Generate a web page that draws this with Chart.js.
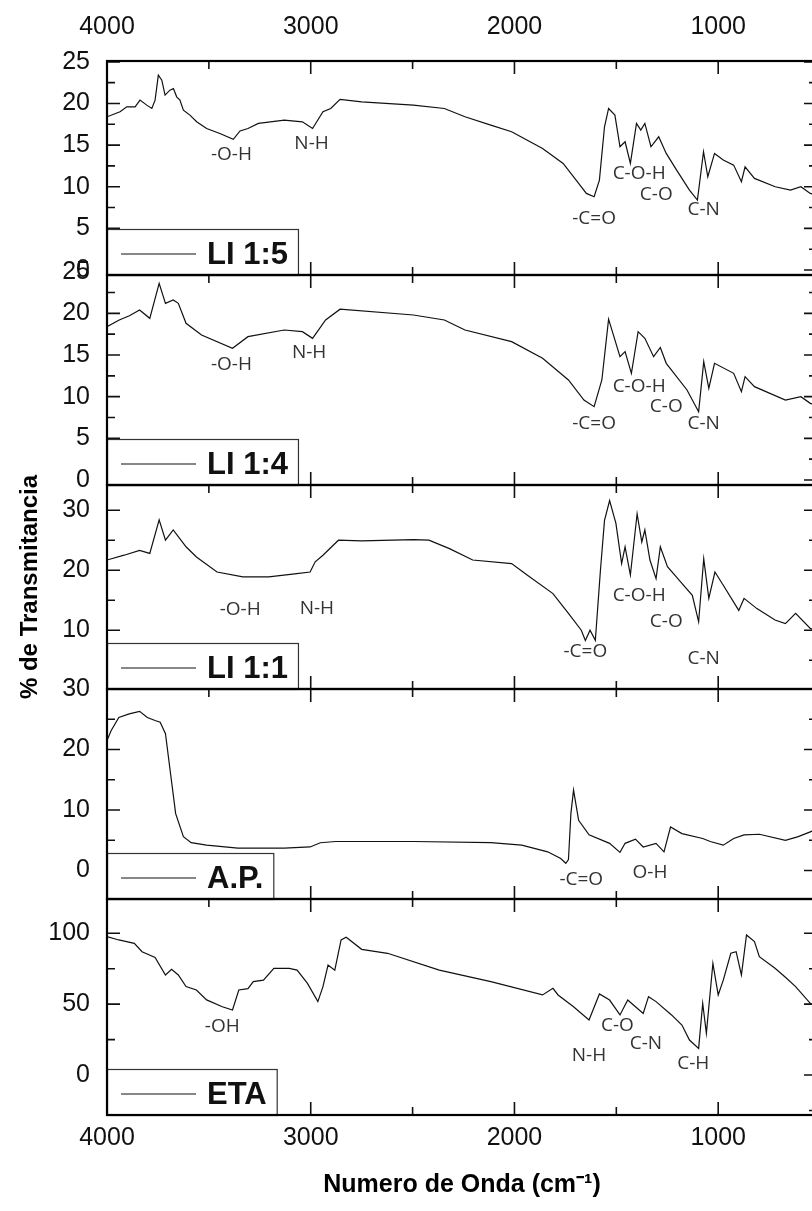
<!DOCTYPE html>
<html>
<head>
<meta charset="utf-8">
<title>Espectros FTIR</title>
<script src="https://cdn.jsdelivr.net/npm/chart.js@4.4.1/dist/chart.umd.min.js"></script>
<style>
  html, body { margin: 0; padding: 0; background: #fff; overflow: hidden; }
  #wrap { width: 812px; height: 1211px; overflow: hidden; position: relative; }
  #ftir { display: block; }
</style>
</head>
<body>
<div id="wrap"><canvas id="ftir" width="820" height="1211"></canvas></div>
<script>
/* =========================
   Espectros FTIR apilados
========================= */

var seriesNames = ['LI 1:5', 'LI 1:4', 'LI 1:1', 'A.P.', 'ETA'];

// LI 1:5
var li15Wn = [4000, 3936, 3903, 3862, 3838, 3805, 3780, 3764, 3748, 3731, 3715, 3691, 3674, 3658, 3642, 3625, 3593, 3560, 3511, 3446, 3380, 3347, 3308, 3257, 3130, 3041, 2991, 2940, 2902, 2856, 2750, 2496, 2344, 2243, 2116, 2014, 1862, 1761, 1685, 1647, 1609, 1583, 1558, 1538, 1507, 1482, 1457, 1431, 1401, 1380, 1360, 1330, 1292, 1255, 1204, 1141, 1102, 1072, 1051, 1018, 975, 924, 886, 868, 822, 720, 645, 594, 548, 520];
var li15T  = [18.4, 19.0, 19.6, 19.6, 20.4, 19.8, 19.4, 20.4, 23.4, 22.8, 21.0, 21.6, 21.8, 20.8, 20.4, 19.2, 18.6, 17.8, 17.0, 16.4, 15.7, 16.7, 17.0, 17.6, 18.0, 17.8, 17.0, 19.0, 19.4, 20.5, 20.2, 19.8, 19.4, 18.4, 17.4, 16.6, 14.6, 12.8, 10.4, 9.2, 8.8, 10.8, 17.2, 19.4, 18.6, 14.8, 15.4, 12.8, 17.6, 16.8, 17.6, 14.8, 16.0, 14.0, 12.0, 9.6, 8.4, 14.2, 11.2, 14.0, 13.2, 12.6, 10.6, 12.4, 11.0, 10.0, 9.6, 10.0, 9.2, 9.0];

// LI 1:4
var li14Wn = [4000, 3940, 3890, 3840, 3790, 3744, 3713, 3675, 3650, 3612, 3536, 3384, 3308, 3130, 3041, 2991, 2927, 2856, 2496, 2344, 2243, 2014, 1862, 1735, 1659, 1609, 1571, 1538, 1482, 1457, 1426, 1393, 1360, 1317, 1284, 1255, 1153, 1096, 1071, 1046, 1018, 924, 886, 868, 822, 670, 594, 548, 520];
var li14T  = [18.4, 19.2, 19.7, 20.4, 19.4, 23.6, 21.2, 21.6, 21.2, 18.8, 17.4, 15.8, 17.2, 18.0, 17.8, 17.0, 19.2, 20.5, 19.8, 19.2, 18.0, 16.6, 14.6, 12.0, 9.6, 8.8, 12.0, 19.3, 14.8, 15.4, 12.8, 17.8, 17.0, 14.8, 15.9, 14.0, 10.8, 8.2, 14.2, 11.0, 14.0, 12.8, 10.6, 12.4, 11.2, 9.6, 10.0, 9.2, 9.0];

// LI 1:1
var li11Wn = [4000, 3916, 3840, 3790, 3744, 3713, 3675, 3650, 3612, 3561, 3460, 3333, 3206, 3079, 3003, 2978, 2940, 2864, 2750, 2496, 2420, 2319, 2205, 2014, 1938, 1811, 1735, 1672, 1652, 1629, 1603, 1578, 1558, 1533, 1502, 1474, 1457, 1431, 1398, 1375, 1360, 1335, 1305, 1284, 1249, 1178, 1127, 1096, 1071, 1046, 1016, 975, 899, 873, 810, 721, 670, 620, 548, 520];
var li11T  = [21.7, 22.5, 23.3, 22.8, 28.4, 25.0, 26.7, 25.6, 23.9, 22.2, 19.7, 18.9, 18.9, 19.4, 19.7, 21.4, 22.5, 25.0, 24.9, 25.1, 25.0, 23.6, 21.7, 21.1, 19.2, 16.1, 12.8, 10.0, 8.3, 10.0, 8.3, 20.0, 28.3, 31.6, 27.8, 21.1, 23.9, 19.2, 29.4, 24.7, 26.7, 21.7, 18.6, 23.9, 20.6, 17.8, 15.8, 11.4, 21.9, 15.3, 19.7, 17.5, 13.3, 15.3, 13.6, 11.7, 11.1, 12.8, 10.3, 10.0];

// A.P.
var apWn = [4000, 3980, 3942, 3891, 3840, 3802, 3764, 3739, 3713, 3688, 3663, 3625, 3587, 3511, 3358, 3130, 3003, 2953, 2877, 2496, 2116, 1964, 1837, 1773, 1748, 1735, 1723, 1710, 1685, 1634, 1533, 1482, 1457, 1406, 1368, 1305, 1266, 1234, 1178, 1076, 1039, 975, 924, 873, 798, 670, 607, 548, 520];
var apT  = [21.5, 23.1, 25.3, 25.9, 26.3, 25.3, 24.8, 24.5, 22.6, 16.0, 9.4, 5.6, 4.6, 4.2, 3.7, 3.7, 3.9, 4.6, 4.8, 4.8, 4.6, 4.2, 3.1, 2.0, 1.2, 1.8, 9.4, 13.3, 8.3, 5.9, 4.5, 3.0, 4.5, 5.2, 3.9, 4.5, 3.1, 7.2, 6.1, 5.3, 4.8, 4.2, 5.3, 5.9, 6.0, 5.0, 5.6, 6.4, 6.8];

// ETA
var etaWn = [4000, 3942, 3866, 3828, 3764, 3713, 3683, 3650, 3612, 3561, 3511, 3434, 3384, 3353, 3308, 3282, 3232, 3181, 3105, 3067, 3016, 2965, 2940, 2915, 2882, 2851, 2826, 2750, 2623, 2369, 2116, 1862, 1811, 1786, 1710, 1634, 1583, 1533, 1482, 1444, 1406, 1368, 1342, 1305, 1229, 1178, 1141, 1096, 1076, 1058, 1026, 1000, 975, 938, 912, 886, 861, 822, 798, 721, 670, 620, 548, 520];
var etaT  = [97.6, 95.3, 92.9, 87.0, 83.0, 70.6, 74.6, 70.6, 62.4, 60.0, 53.0, 48.2, 45.9, 60.0, 61.0, 65.9, 67.0, 75.3, 75.3, 74.0, 64.7, 51.8, 62.4, 77.6, 74.0, 95.3, 97.2, 88.7, 85.9, 74.0, 65.9, 56.5, 61.2, 56.5, 48.2, 38.8, 57.2, 52.9, 42.4, 52.9, 48.2, 43.5, 55.3, 51.8, 42.4, 35.3, 24.7, 18.8, 50.6, 29.4, 78.8, 56.5, 67.0, 85.9, 87.0, 70.6, 98.8, 94.1, 83.5, 75.3, 69.0, 62.4, 50.6, 48.0];

// Bandas asignadas: [texto, numero de onda, % T]
var li15Bands = [['-O-H', 3389, 13.8], ['N-H', 2996, 15.2], ['-C=O', 1609, 6.2], ['C-O-H', 1388, 11.6], ['C-O', 1304, 9.0], ['C-N', 1071, 7.2]];
var li14Bands = [['-O-H', 3389, 13.8], ['N-H', 3008, 15.3], ['-C=O', 1609, 6.8], ['C-O-H', 1388, 11.2], ['C-O', 1255, 8.8], ['C-N', 1071, 6.8]];
var li11Bands = [['-O-H', 3346, 13.4], ['N-H', 2970, 13.6], ['-C=O', 1652, 6.4], ['C-O-H', 1388, 15.7], ['C-O', 1255, 11.4], ['C-N', 1071, 5.3]];
var apBands   = [['-C=O', 1672, -1.5], ['O-H', 1335, -0.3]];
var etaBands  = [['-OH', 3434, 34], ['N-H', 1634, 13.4], ['C-O', 1495, 34.6], ['C-N', 1355, 21.9], ['C-H', 1122, 8.2]];

// Ejes
var xMin = 515, xMax = 4000;
var xTickLabels = [4000, 3000, 2000, 1000];
var y1Ticks = [0, 5, 10, 15, 20, 25];
var y2Ticks = [0, 5, 10, 15, 20, 25];
var y3Ticks = [10, 20, 30];
var y4Ticks = [0, 10, 20, 30];
var y5Ticks = [0, 50, 100];
var panelMin    = [-0.6, -0.6, 0.2, -4.7, -28.2];
var panelMax    = [25.1, 24.6, 34.2, 30, 124.2];
var panelStep   = [5, 5, 10, 10, 50];
var panelWeight = [214, 210, 204, 210, 216];

var panelIds = ['y1', 'y2', 'y3', 'y4', 'y5'];
var yTickSets = [y1Ticks, y2Ticks, y3Ticks, y4Ticks, y5Ticks];
var wnSets   = [li15Wn, li14Wn, li11Wn, apWn, etaWn];
var tSets    = [li15T, li14T, li11T, apT, etaT];
var bandSets = [li15Bands, li14Bands, li11Bands, apBands, etaBands];

Chart.defaults.font.family = '"Liberation Sans", Arial, sans-serif';
Chart.defaults.color = '#111';

/* ── marcos, ticks internos, leyendas y bandas ── */
var spectraFrame = {
    id: 'spectraFrame',
    afterDatasetsDraw: function (chart) {
        var ctx = chart.ctx;
        var area = chart.chartArea;
        var xs = chart.scales.x;
        ctx.save();

        panelIds.forEach(function (id, p) {
            var ys = chart.scales[id];
            var top = ys.top, bot = ys.bottom;

            // ticks hacia adentro
            ctx.strokeStyle = '#111';
            ctx.lineWidth = 1.6;
            ctx.beginPath();
            for (var w = 500; w < xMax; w += 500) {
                if (w < xs.min) continue;
                var px = xs.getPixelForValue(w);
                var len = (w % 1000 === 0) ? 13 : 8;
                ctx.moveTo(px, top); ctx.lineTo(px, top + len);
                ctx.moveTo(px, bot); ctx.lineTo(px, bot - len);
            }
            var minor = panelStep[p] / 2;
            for (var k = Math.ceil(ys.min / minor); k * minor <= ys.max; k++) {
                var py = ys.getPixelForValue(k * minor);
                var ylen = (k % 2 === 0) ? 13 : 8;
                ctx.moveTo(area.left, py); ctx.lineTo(area.left + ylen, py);
                ctx.moveTo(area.right, py); ctx.lineTo(area.right - ylen, py);
            }
            ctx.stroke();

            // caja de leyenda
            var boxH = 46;
            ctx.font = 'bold 31px "Liberation Sans", Arial, sans-serif';
            var tw = ctx.measureText(seriesNames[p]).width;
            var bx = area.left, by = bot - boxH, bw = 100 + tw + 10;
            ctx.fillStyle = '#fff';
            ctx.fillRect(bx, by, bw, boxH);
            ctx.lineWidth = 1.2;
            ctx.strokeStyle = '#333';
            ctx.strokeRect(bx + 0.5, by + 0.5, bw, boxH);
            ctx.beginPath();
            ctx.moveTo(bx + 14, by + boxH / 2 + 2);
            ctx.lineTo(bx + 89, by + boxH / 2 + 2);
            ctx.strokeStyle = '#111';
            ctx.stroke();
            ctx.fillStyle = '#111';
            ctx.textAlign = 'left';
            ctx.textBaseline = 'middle';
            ctx.fillText(seriesNames[p], bx + 100, by + boxH / 2 + 3);

            // marco del panel
            ctx.lineWidth = 2.2;
            ctx.strokeStyle = '#000';
            ctx.strokeRect(area.left, top, area.right - area.left, bot - top);

            // etiquetas de bandas
            ctx.font = '19px "Open Sans", sans-serif';
            ctx.fillStyle = '#333';
            ctx.textAlign = 'center';
            ctx.textBaseline = 'middle';
            bandSets[p].forEach(function (b) {
                ctx.fillText(b[0], xs.getPixelForValue(b[1]), ys.getPixelForValue(b[2]));
            });
        });
        ctx.restore();
    }
};

var datasets = seriesNames.map(function (name, i) {
    return {
        label: name,
        data: wnSets[i].map(function (w, j) { return { x: w, y: tSets[i][j] }; }),
        xAxisID: 'x',
        yAxisID: panelIds[i],
        borderColor: '#111',
        borderWidth: 1.2,
        pointRadius: 0,
        tension: 0,
        fill: false
    };
});

function xAxis(pos, pad, size) {
    return {
        type: 'linear',
        position: pos,
        reverse: true,
        min: xMin,
        max: xMax,
        grid: { display: false, drawTicks: false },
        border: { display: false },
        ticks: {
            autoSkip: false,
            maxRotation: 0,
            padding: pad,
            font: { size: 25 },
            color: '#111',
            callback: function (v) { return String(v); }
        },
        afterBuildTicks: function (s) {
            s.ticks = xTickLabels.map(function (v) { return { value: v }; });
        },
        afterFit: function (s) { s.height = size; }
    };
}

var scales = { x: xAxis('bottom', 8, 96), x2: xAxis('top', 19, 61) };
scales.x.title = {
    display: true,
    text: 'Numero de Onda (cm⁻¹)',
    font: { size: 25, weight: 'bold' },
    color: '#000',
    padding: { top: 0, bottom: 11 }
};

panelIds.forEach(function (id, i) {
    scales[id] = {
        type: 'linear',
        position: 'left',
        stack: 'spectra',
        stackWeight: panelWeight[i],
        weight: panelIds.length - i,
        offset: false,
        min: panelMin[i],
        max: panelMax[i],
        grid: { display: false, drawTicks: false },
        border: { display: false },
        ticks: {
            autoSkip: false,
            padding: 17,
            font: { size: 25 },
            color: '#111',
            callback: function (v) { return String(v); }
        },
        afterBuildTicks: function (s) {
            s.ticks = yTickSets[i].map(function (v) { return { value: v }; });
        },
        afterFit: function (s) { s.width = 107; }
    };
});
scales.y3.title = {
    display: true,
    text: '% de Transmitancia',
    font: { size: 24, weight: 'bold' },
    color: '#000',
    padding: { top: 16, bottom: 0 }
};

new Chart(document.getElementById('ftir'), {
    type: 'line',
    data: { datasets: datasets },
    options: {
        responsive: false,
        animation: false,
        layout: { padding: { left: 0, right: 3, top: 0, bottom: 0 } },
        plugins: { legend: { display: false }, tooltip: { enabled: false } },
        scales: scales
    },
    plugins: [spectraFrame]
});
</script>
</body>
</html>
